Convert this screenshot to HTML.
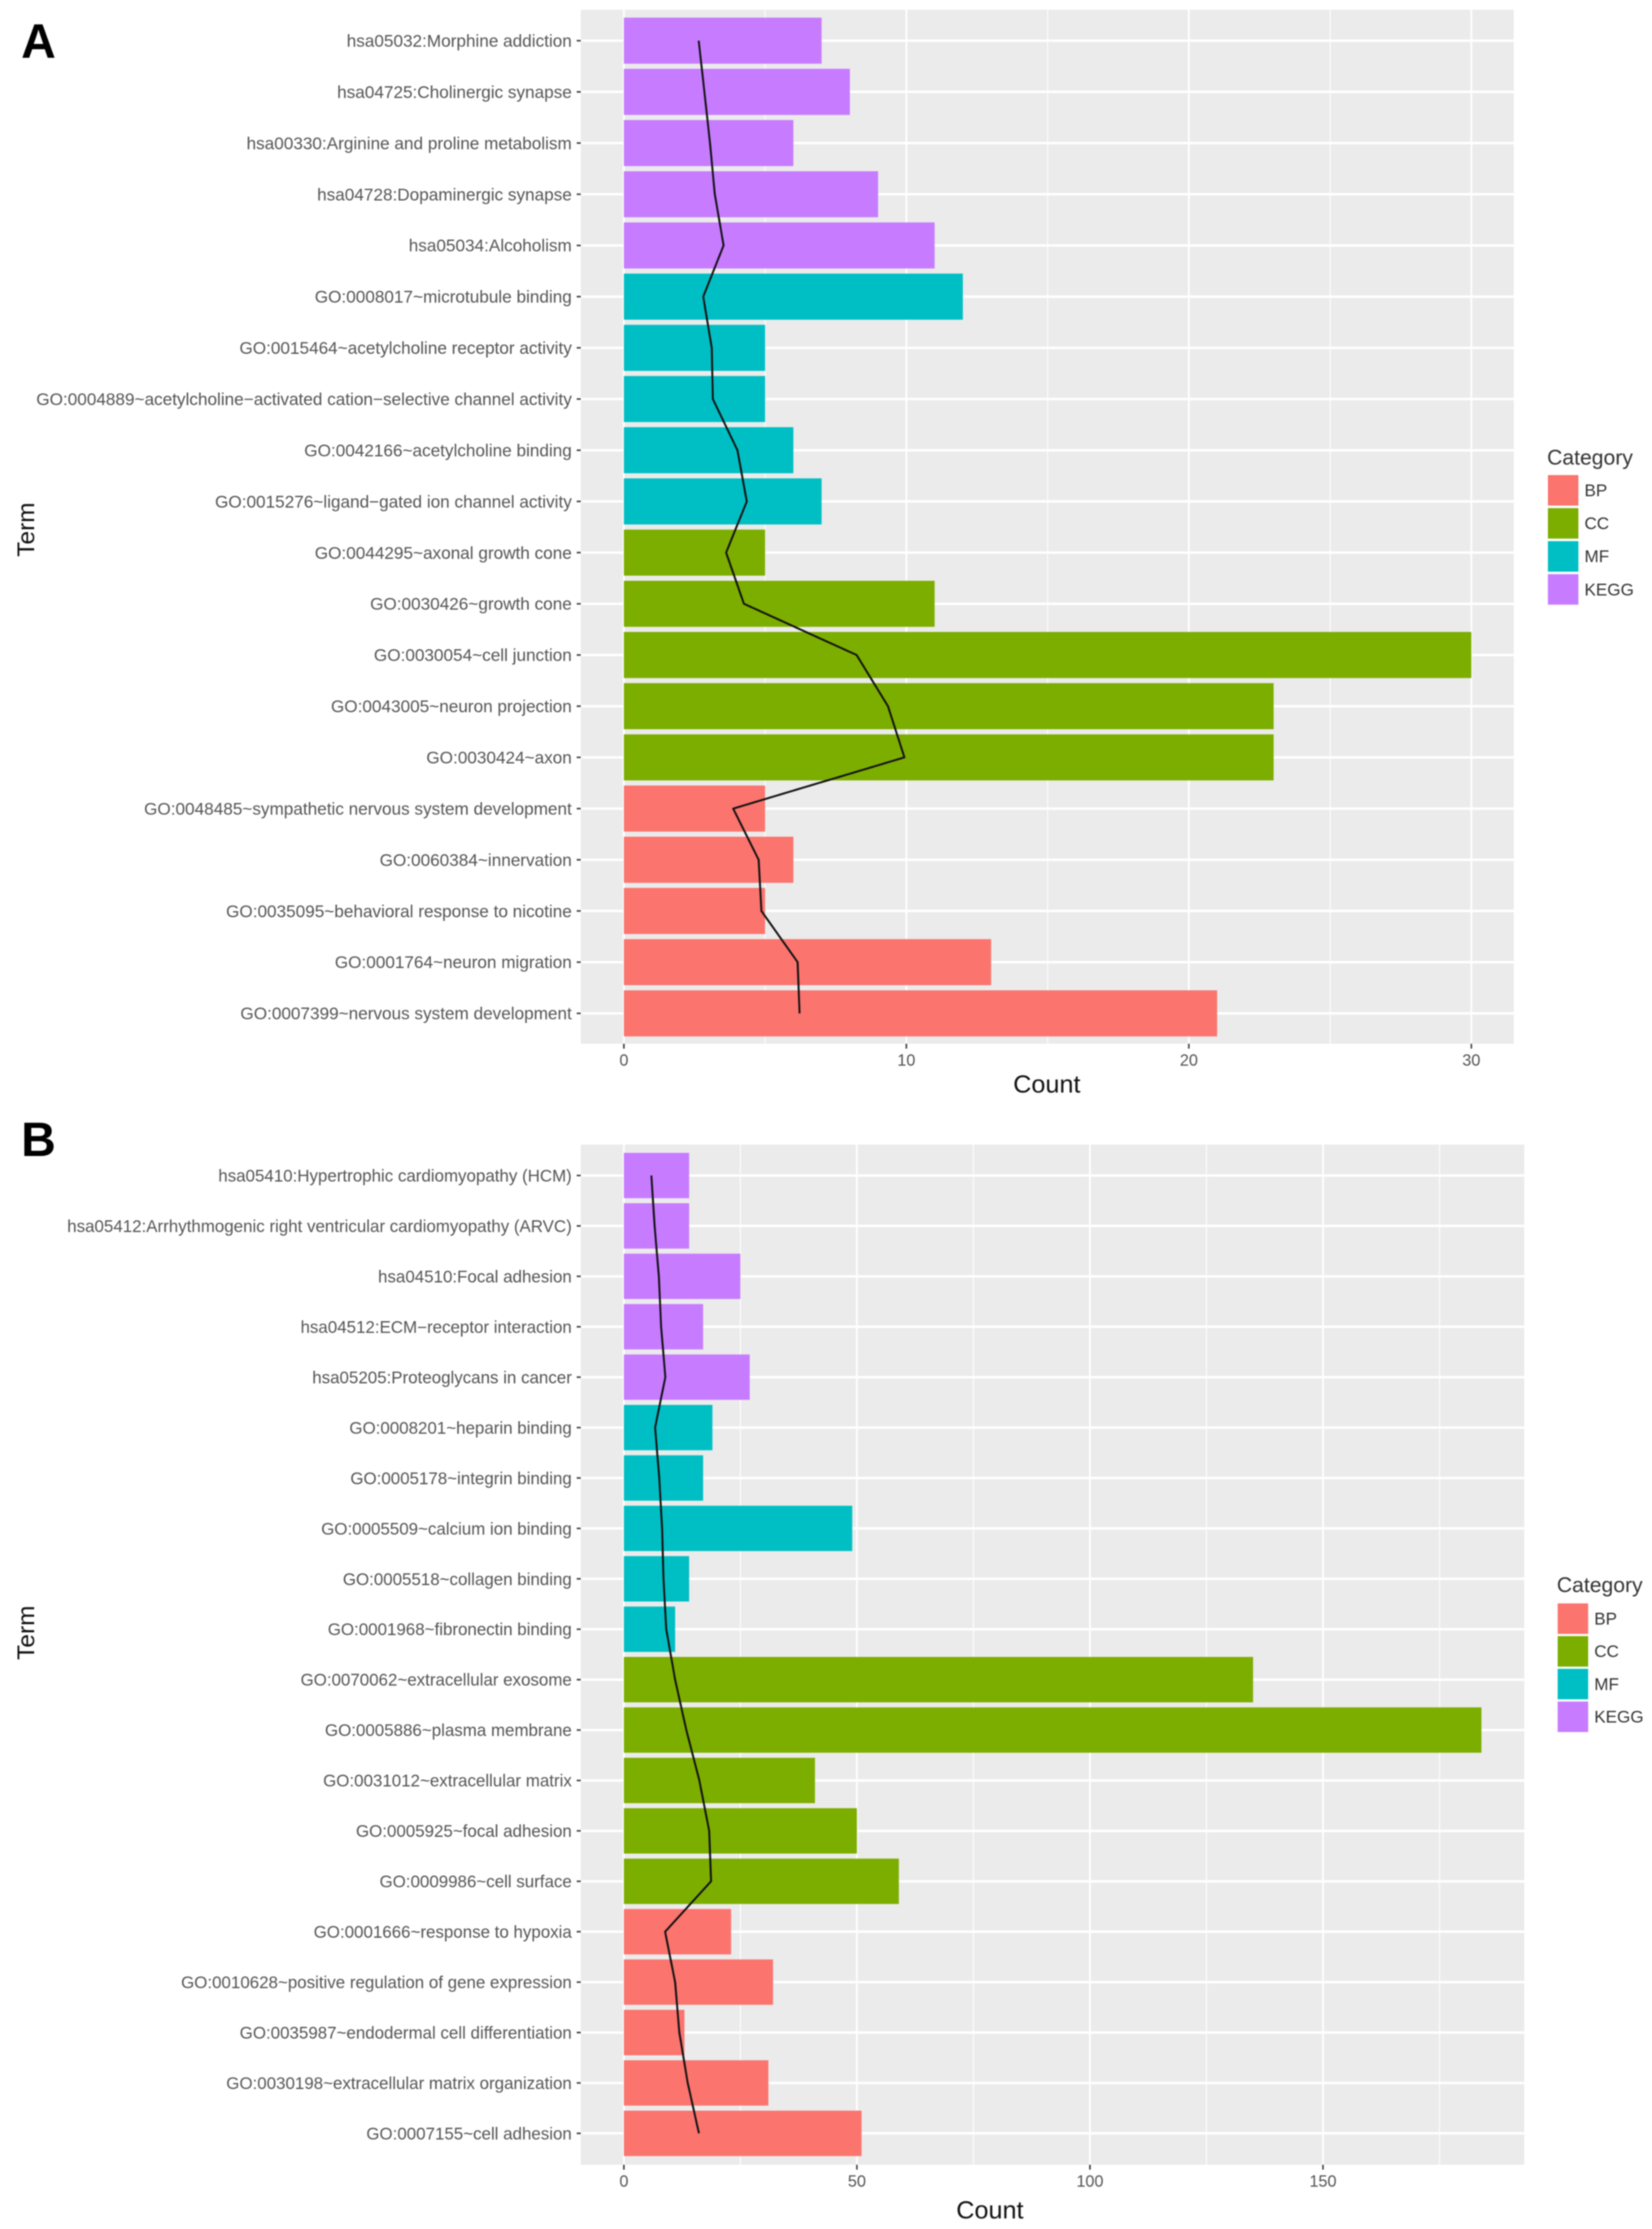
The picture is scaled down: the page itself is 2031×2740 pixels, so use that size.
<!DOCTYPE html>
<html lang="en">
<head>
<meta charset="utf-8">
<title>GO and KEGG enrichment bar charts</title>
<style>
html,body{margin:0;padding:0;background:#fff;}
#figure{display:block;width:2031px;height:2740px;font-family:"Liberation Sans",Arial,sans-serif;filter:blur(0.7px);}
</style>
</head>
<body>
<svg id="figure" xmlns="http://www.w3.org/2000/svg" width="2031" height="2740" viewBox="0 0 2031 2740"></svg>
<script>
// ---------- Panel A data (top to bottom) ----------
const termsA = [
  "hsa05032:Morphine addiction","hsa04725:Cholinergic synapse","hsa00330:Arginine and proline metabolism",
  "hsa04728:Dopaminergic synapse","hsa05034:Alcoholism","GO:0008017~microtubule binding",
  "GO:0015464~acetylcholine receptor activity","GO:0004889~acetylcholine\u2212activated cation\u2212selective channel activity",
  "GO:0042166~acetylcholine binding","GO:0015276~ligand\u2212gated ion channel activity","GO:0044295~axonal growth cone",
  "GO:0030426~growth cone","GO:0030054~cell junction","GO:0043005~neuron projection","GO:0030424~axon",
  "GO:0048485~sympathetic nervous system development","GO:0060384~innervation","GO:0035095~behavioral response to nicotine",
  "GO:0001764~neuron migration","GO:0007399~nervous system development"
];
const categoriesA = ["KEGG","KEGG","KEGG","KEGG","KEGG","MF","MF","MF","MF","MF","CC","CC","CC","CC","CC","BP","BP","BP","BP","BP"];
const countsA = [7,8,6,9,11,12,5,5,6,7,5,11,30,23,23,5,6,5,13,21];
const lineA = [2.65,2.85,3.05,3.22,3.53,2.81,3.11,3.15,4.02,4.35,3.62,4.25,8.24,9.35,9.93,3.87,4.77,4.87,6.15,6.22];
const majorTicksA = [0,10,20,30];
const minorTicksA = [5,15,25];

// ---------- Panel B data (top to bottom) ----------
const termsB = [
  "hsa05410:Hypertrophic cardiomyopathy (HCM)","hsa05412:Arrhythmogenic right ventricular cardiomyopathy (ARVC)",
  "hsa04510:Focal adhesion","hsa04512:ECM\u2212receptor interaction","hsa05205:Proteoglycans in cancer",
  "GO:0008201~heparin binding","GO:0005178~integrin binding","GO:0005509~calcium ion binding","GO:0005518~collagen binding",
  "GO:0001968~fibronectin binding","GO:0070062~extracellular exosome","GO:0005886~plasma membrane",
  "GO:0031012~extracellular matrix","GO:0005925~focal adhesion","GO:0009986~cell surface","GO:0001666~response to hypoxia",
  "GO:0010628~positive regulation of gene expression","GO:0035987~endodermal cell differentiation",
  "GO:0030198~extracellular matrix organization","GO:0007155~cell adhesion"
];
const categoriesB = ["KEGG","KEGG","KEGG","KEGG","KEGG","MF","MF","MF","MF","MF","CC","CC","CC","CC","CC","BP","BP","BP","BP","BP"];
const countsB = [14,14,25,17,27,19,17,49,14,11,135,184,41,50,59,23,32,13,31,51];
const lineB = [5.9,6.6,7.5,8.0,8.9,6.7,7.6,8.2,8.5,9.1,11,13.4,16.2,18.3,18.7,8.84,11,11.9,13.7,16.1];
const majorTicksB = [0,50,100,150];
const minorTicksB = [25,75,125,175];

// ---------- Legend data ----------
const legendCategories = ["BP","CC","MF","KEGG"];
const legendColors = ["#FB746E","#7CAE00","#00BFC4","#C77CFF"];

const NS = "http://www.w3.org/2000/svg";
const figure = document.getElementById("figure");

function make(parent, tag, attrs, text) {
  const el = document.createElementNS(NS, tag);
  for (const k in attrs) el.setAttribute(k, attrs[k]);
  if (text !== undefined) el.textContent = text;
  parent.appendChild(el);
  return el;
}
function colorOf(cat) { return legendColors[legendCategories.indexOf(cat)]; }
function slug(s) { return s.toLowerCase().replace(/[^a-z0-9]+/g, "-").replace(/^-|-$/g, ""); }

function drawPanel(name, terms, cats, counts, line, majors, minors, geo) {
  const g = make(figure, "g", {});
  
  

  const xScale = v => geo.x0 + v * geo.pxPerUnit;
  const yScale = i => geo.y0 + i * geo.step;

  const bg = make(g, "rect", {x: geo.left, y: geo.top, width: geo.right - geo.left, height: geo.bottom - geo.top, fill: "#EBEBEB"});
  
  

  minors.forEach(v => {
    const m = make(g, "line", {x1: xScale(v), x2: xScale(v), y1: geo.top, y2: geo.bottom, stroke: "#fff", "stroke-width": 1.2});
    
    
  });
  majors.forEach(v => {
    const m = make(g, "line", {x1: xScale(v), x2: xScale(v), y1: geo.top, y2: geo.bottom, stroke: "#fff", "stroke-width": 2.2});
    
    
  });
  terms.forEach((t, i) => {
    const m = make(g, "line", {x1: geo.left, x2: geo.right, y1: yScale(i), y2: yScale(i), stroke: "#fff", "stroke-width": 3});
    
    
  });

  const barH = geo.step * 0.9;
  counts.forEach((c, i) => {
    const b = make(g, "rect", {x: xScale(0), y: yScale(i) - barH / 2, width: xScale(c) - xScale(0), height: barH, fill: colorOf(cats[i])});
    
    
  });

  const pts = line.map((v, i) => xScale(v).toFixed(1) + "," + yScale(i).toFixed(1)).join(" ");
  const pl = make(g, "polyline", {points: pts, fill: "none", stroke: "#111", "stroke-width": 2.4, "stroke-linejoin": "round"});
  
  

  terms.forEach((t, i) => {
    const tk = make(g, "line", {x1: geo.left - 5, x2: geo.left, y1: yScale(i), y2: yScale(i), stroke: "#444", "stroke-width": 2});
    
    
    const lb = make(g, "text", {x: geo.left - 11, y: yScale(i) + 7.5, "text-anchor": "end", "font-size": geo.labelSize, fill: "#555"}, t);
    
    
  });

  majors.forEach(v => {
    const tk = make(g, "line", {x1: xScale(v), x2: xScale(v), y1: geo.bottom, y2: geo.bottom + 6, stroke: "#444", "stroke-width": 2});
    
    
    const lb = make(g, "text", {x: xScale(v), y: geo.bottom + 27, "text-anchor": "middle", "font-size": 20, fill: "#555"}, String(v));
    
    
  });

  const xt = make(g, "text", {x: geo.countX, y: geo.countY, "text-anchor": "middle", "font-size": 31, fill: "#111"}, "Count");
  
  

  const yt = make(g, "text", {transform: "translate(" + geo.termX + "," + geo.termY + ") rotate(-90)", "text-anchor": "middle", "font-size": 30, fill: "#111"}, "Term");
  
  

  const pl2 = make(g, "text", {x: geo.letterX, y: geo.letterY, "font-size": 59, "font-weight": "bold", fill: "#000"}, name);
  
  

  const lg = make(g, "g", {});
  
  
  const lt = make(lg, "text", {x: geo.legX - 1, y: geo.legTitleY, "font-size": 26, fill: "#333"}, "Category");
  
  
  legendCategories.forEach((c, i) => {
    const top = geo.legY + i * geo.legStep;
    const s = make(lg, "rect", {x: geo.legX, y: top, width: 37.5, height: 37.5, fill: legendColors[i]});
    
    
    const l = make(lg, "text", {x: geo.legX + 45, y: top + 26, "font-size": 21, fill: "#333"}, c);
    
    
  });
}

drawPanel("A", termsA, categoriesA, countsA, lineA, majorTicksA, minorTicksA, {
  left: 714, right: 1861, top: 12, bottom: 1283,
  x0: 767, pxPerUnit: 34.73, y0: 50, step: 62.93, labelSize: 21.1,
  countX: 1287, countY: 1343, termX: 42, termY: 651,
  letterX: 26, letterY: 71,
  legX: 1903, legY: 584, legStep: 40.6, legTitleY: 571
});

drawPanel("B", termsB, categoriesB, countsB, lineB, majorTicksB, minorTicksB, {
  left: 714, right: 1874, top: 1407, bottom: 2661,
  x0: 767, pxPerUnit: 5.73, y0: 1445, step: 61.97, labelSize: 20.8,
  countX: 1217, countY: 2727, termX: 42, termY: 2007,
  letterX: 26, letterY: 1421,
  legX: 1915, legY: 1971, legStep: 40.2, legTitleY: 1957
});
</script>
</body>
</html>
